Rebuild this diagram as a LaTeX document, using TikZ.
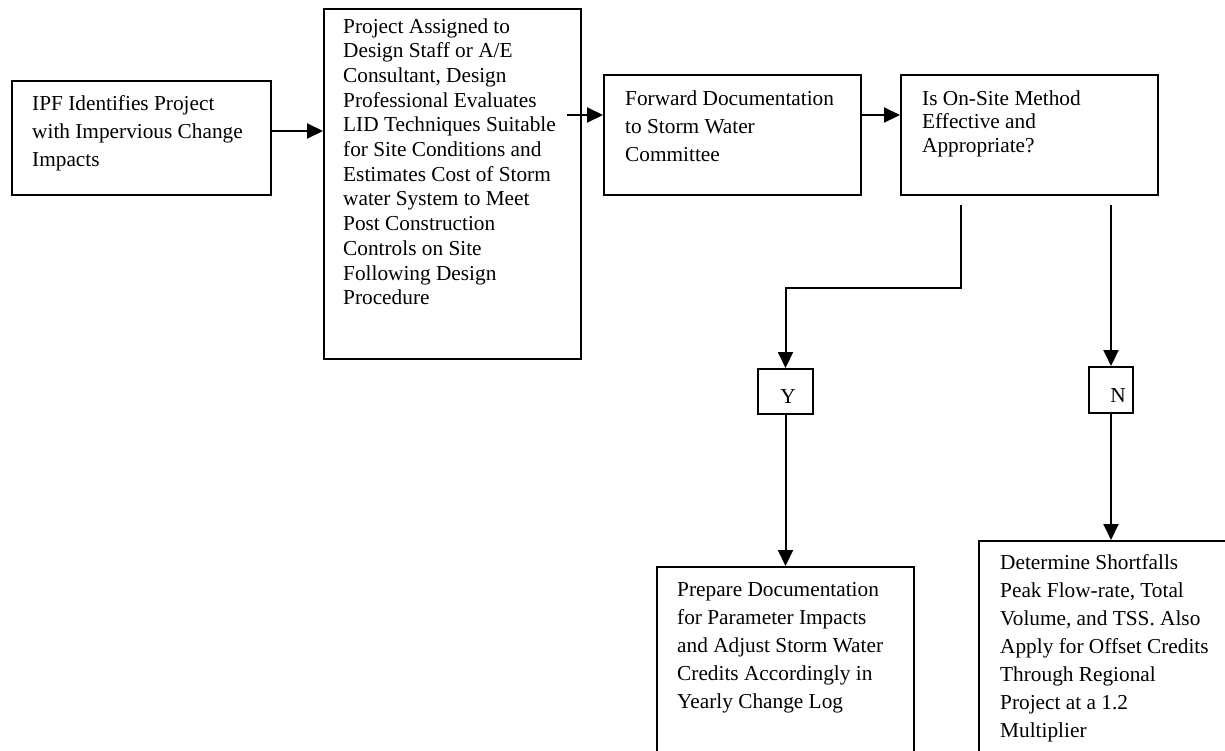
\documentclass[tikz,border=0pt]{standalone}
\usepackage{fontspec}
\setmainfont{Liberation Serif}
\usetikzlibrary{arrows.meta}
\tikzset{
  box/.style={draw, line width=2pt, anchor=north west, inner sep=0pt},
  txt/.style={inner sep=0pt, anchor=base west, font=\fontsize{21.3}{28}\selectfont},
  txttight/.style={txt, font=\fontsize{21.3}{24.7}\selectfont},
  txtD/.style={txt, font=\fontsize{21.3}{23.5}\selectfont},
  arr/.style={line width=2pt, -{Triangle[length=16pt,width=15pt]}},
  ln/.style={line width=2pt}
}
\begin{document}
\begin{tikzpicture}[x=1pt,y=-1pt]
\useasboundingbox[fill=white] (0,0) rectangle (1225,750);
% boxes
\node[box, minimum width=259, minimum height=114] (A) at (11,80) {};
\node[txt] (At) at (32,110) {\parbox[t]{300pt}{IPF Identifies Project\\with Impervious Change\\Impacts}};

\node[box, minimum width=257, minimum height=350] (B) at (323,8) {};
\node[txttight] (Bt) at (343,33) {\parbox[t]{300pt}{Project Assigned to\\Design Staff or A/E\\Consultant, Design\\Professional Evaluates\\LID Techniques Suitable\\for Site Conditions and\\Estimates Cost of Storm\\water System to Meet\\Post Construction\\Controls on Site\\Following Design\\Procedure}};

\node[box, minimum width=257, minimum height=120] (C) at (603,74) {};
\node[txt] (Ct) at (625,105) {\parbox[t]{300pt}{Forward Documentation\\to Storm Water\\Committee}};

\node[box, minimum width=257, minimum height=120] (D) at (900,74) {};
\node[txtD] (Dt) at (922,105) {\parbox[t]{300pt}{Is On-Site Method\\Effective and\\Appropriate?}};

\node[box, minimum width=55, minimum height=45] (Y) at (757,368) {};
\node[txt, anchor=base] (Yt) at (788,403) {Y};

\node[box, minimum width=44, minimum height=46] (N) at (1088,366) {};
\node[txt, anchor=base] (Nt) at (1118,402) {N};

\node[box, minimum width=257, minimum height=200] (P) at (656,566) {};
\node[txt] (Pt) at (677,596) {\parbox[t]{300pt}{Prepare Documentation\\for Parameter Impacts\\and Adjust Storm Water\\Credits Accordingly in\\Yearly Change Log}};

\node[box, minimum width=260, minimum height=230] (Q) at (978,540) {};
\node[txt] (Qt) at (1000,569) {\parbox[t]{300pt}{Determine Shortfalls\\Peak Flow-rate, Total\\Volume, and TSS. Also\\Apply for Offset Credits\\Through Regional\\Project at a 1.2\\Multiplier}};

% connectors
\draw[arr] ([yshift=7pt]A.east) -- ([yshift=7pt]A.east -| B.west);
\coordinate (bc) at ([yshift=20pt]C.west);
\draw[arr] ([xshift=-15pt]B.east |- bc) -- (bc);
\draw[arr] (C.east |- bc) -- (D.west |- bc);
\coordinate (ystart) at (961,205);
\coordinate (ybend) at (961,288);
\draw[arr] (ystart) -- (ybend) -| (Y.north);
\coordinate (nstart) at (1110,205);
\draw[arr] (N.north |- nstart) -- (N.north);
\draw[arr] (Y.south) -- (Y.south |- P.north);
\draw[arr] (N.south) -- (N.south |- Q.north);
\end{tikzpicture}
\end{document}
